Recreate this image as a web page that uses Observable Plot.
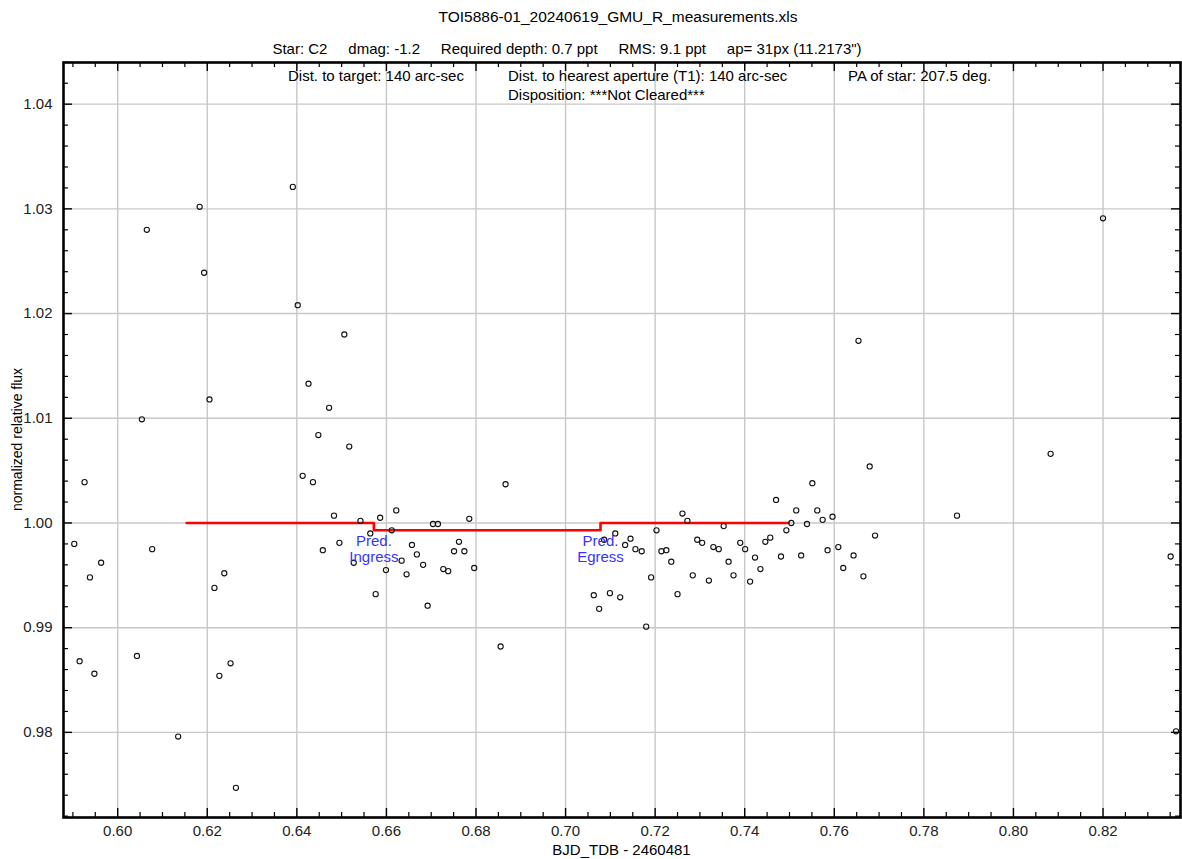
<!DOCTYPE html>
<html>
<head>
<meta charset="utf-8">
<script src="https://cdn.jsdelivr.net/npm/d3@7"></script>
<script src="https://cdn.jsdelivr.net/npm/@observablehq/plot@0.6"></script>
<style>
  body { margin: 0; background: #fff; }
  svg text { font-family: "Liberation Sans", Arial, Helvetica, sans-serif; }
</style>
</head>
<body>
<div id="chart"></div>
<script>
// ---- data ----
const times = [
  0.5903, 0.5915, 0.5926, 0.5938, 0.5948, 0.5963, 0.6043, 0.6054, 0.6065, 0.6077,
  0.6135, 0.6183, 0.6193, 0.6205, 0.6216, 0.6227, 0.6238, 0.6252, 0.6264, 0.6391,
  0.6402, 0.6413, 0.6426, 0.6436, 0.6448, 0.6458, 0.6472, 0.6483, 0.6495, 0.6506,
  0.6517, 0.6527, 0.6542, 0.6564, 0.6576, 0.6586, 0.6599, 0.6612, 0.6622, 0.6634,
  0.6645, 0.6657, 0.6668, 0.6682, 0.6692, 0.6704, 0.6715, 0.6727, 0.6738, 0.6751,
  0.6762, 0.6774, 0.6785, 0.6796, 0.6855, 0.6866,
  0.7063, 0.7075, 0.7086, 0.7099, 0.7111, 0.7122, 0.7133, 0.7145, 0.7156, 0.7170,
  0.7180, 0.7191, 0.7203, 0.7214, 0.7225, 0.7236, 0.7250, 0.7261, 0.7272, 0.7284,
  0.7294, 0.7305, 0.7320, 0.7330, 0.7342, 0.7353, 0.7364, 0.7375, 0.7390, 0.7401,
  0.7412, 0.7423, 0.7435, 0.7446, 0.7457, 0.7470, 0.7481, 0.7493, 0.7504, 0.7515,
  0.7526, 0.7539, 0.7551, 0.7562, 0.7574, 0.7585, 0.7596, 0.7609, 0.7620, 0.7643,
  0.7654, 0.7665, 0.7679, 0.7691, 0.7874, 0.8083, 0.8200, 0.8351, 0.8363
];
const fluxes = [
  0.9980, 0.9868, 1.0039, 0.9948, 0.9856, 0.9962, 0.9873, 1.0099, 1.0280, 0.9975,
  0.9796, 1.0302, 1.0239, 1.0118, 0.9938, 0.9854, 0.9952, 0.9866, 0.9747, 1.0321,
  1.0208, 1.0045, 1.0133, 1.0039, 1.0084, 0.9974, 1.0110, 1.0007, 0.9981, 1.0180,
  1.0073, 0.9962, 1.0002, 0.9990, 0.9932, 1.0005, 0.9955, 0.9993, 1.0012, 0.9964,
  0.9951, 0.9979, 0.9970, 0.9960, 0.9921, 0.9999, 0.9999, 0.9956, 0.9954, 0.9973,
  0.9982, 0.9973, 1.0004, 0.9957, 0.9882, 1.0037,
  0.9931, 0.9918, 0.9984, 0.9933, 0.9990, 0.9929, 0.9979, 0.9985, 0.9975, 0.9973,
  0.9901, 0.9948, 0.9993, 0.9973, 0.9974, 0.9963, 0.9932, 1.0009, 1.0002, 0.9950,
  0.9984, 0.9981, 0.9945, 0.9977, 0.9975, 0.9997, 0.9963, 0.9950, 0.9981, 0.9975,
  0.9944, 0.9967, 0.9956, 0.9982, 0.9986, 1.0022, 0.9968, 0.9993, 1.0000, 1.0012,
  0.9969, 0.9999, 1.0038, 1.0012, 1.0003, 0.9974, 1.0006, 0.9977, 0.9957, 0.9969,
  1.0174, 0.9949, 1.0054, 0.9988, 1.0007, 1.0066, 1.0291, 0.9968, 0.9801
];
// predicted transit model (step)
const modelTimes = [0.6154, 0.6572, 0.7078, 0.7498];
const modelFlux  = [1.0000, 0.9993, 1.0000, 1.0000];
const eventTimes  = [0.6572, 0.7078];
const eventLabels = ["Pred.\nIngress", "Pred.\nEgress"];
const eventFlux   = [0.9993, 0.9993];

const xTicks = [0.60, 0.62, 0.64, 0.66, 0.68, 0.70, 0.72, 0.74, 0.76, 0.78, 0.80, 0.82];
const yTicks = [0.98, 0.99, 1.00, 1.01, 1.02, 1.03, 1.04];
const xDomain = [0.5879, 0.8373];
const yDomain = [0.97187, 1.04398];

const titleText = "TOI5886-01_20240619_GMU_R_measurements.xls";
const subtitleText = "Star: C2\u00a0\u00a0\u00a0\u00a0\u00a0dmag: -1.2\u00a0\u00a0\u00a0\u00a0\u00a0Required depth: 0.7 ppt\u00a0\u00a0\u00a0\u00a0\u00a0RMS: 9.1 ppt\u00a0\u00a0\u00a0\u00a0\u00a0ap= 31px (11.2173\")";
const infoTexts = ["Dist. to target: 140 arc-sec", "Dist. to hearest aperture (T1): 140 arc-sec", "PA of star: 207.5 deg.", "Disposition: ***Not Cleared***"];
const xLabel = "BJD_TDB - 2460481";
const yLabel = "normalized relative flux";

// ---- build tables ----
const points = times.map((t, i) => ({t, f: fluxes[i]}));
const model = modelTimes.map((t, i) => ({t, f: modelFlux[i]}));
const events = eventTimes.map((t, i) => ({t, f: eventFlux[i], label: eventLabels[i]}));
const xMinor = d3.range(0.590, 0.8371, 0.005).filter(v => Math.abs(v * 50 - Math.round(v * 50)) > 1e-6);
const yMinor = d3.range(0.972, 1.0441, 0.002).filter(v => Math.abs(v * 100 - Math.round(v * 100)) > 1e-6);

const W = 1182, H = 859, mL = 63, mR = 2, mT = 62, mB = 42;
const plotH = H - mT - mB, plotW = W - mL - mR;
const fmt = d3.format(".2f");
const FS = 15;

const chart = Plot.plot({
  width: W, height: H,
  marginLeft: mL, marginRight: mR, marginTop: mT, marginBottom: mB,
  style: {fontFamily: '"Liberation Sans", Arial, sans-serif', fontSize: FS + "px", background: "#fff"},
  x: {domain: xDomain, axis: null},
  y: {domain: yDomain, axis: null},
  marks: [
    Plot.gridX(xTicks, {stroke: "#c8c8c8", strokeOpacity: 1, strokeWidth: 1.4}),
    Plot.gridY(yTicks, {stroke: "#c8c8c8", strokeOpacity: 1, strokeWidth: 1.4}),
    // inward ticks, bottom and top
    Plot.ruleX(xTicks, {x: d => d, insetTop: plotH - 9, stroke: "#000", strokeWidth: 1.4}),
    Plot.ruleX(xTicks, {x: d => d, insetBottom: plotH - 9, stroke: "#000", strokeWidth: 1.4}),
    Plot.ruleX(xMinor, {x: d => d, insetTop: plotH - 5, stroke: "#000", strokeWidth: 1.2}),
    Plot.ruleX(xMinor, {x: d => d, insetBottom: plotH - 5, stroke: "#000", strokeWidth: 1.2}),
    // inward ticks, left and right
    Plot.ruleY(yTicks, {y: d => d, insetRight: plotW - 9, stroke: "#000", strokeWidth: 1.4}),
    Plot.ruleY(yTicks, {y: d => d, insetLeft: plotW - 9, stroke: "#000", strokeWidth: 1.4}),
    Plot.ruleY(yMinor, {y: d => d, insetRight: plotW - 5, stroke: "#000", strokeWidth: 1.2}),
    Plot.ruleY(yMinor, {y: d => d, insetLeft: plotW - 5, stroke: "#000", strokeWidth: 1.2}),
    Plot.axisX(xTicks, {tickSize: 0, tickPadding: 8, tickFormat: fmt, fontSize: FS, fill: "#222", label: null}),
    Plot.axisY(yTicks, {tickSize: 0, tickPadding: 11, tickFormat: fmt, fontSize: FS, fill: "#222", label: null}),
    Plot.line(model, {x: "t", y: "f", curve: "step-after", stroke: "#ff0000", strokeWidth: 2.6}),
    Plot.dot(points, {x: "t", y: "f", r: 2.6, stroke: "#111", strokeWidth: 1.1, fill: "none"}),
    Plot.text(events, {x: "t", y: "f", text: "label", fill: "#3535ff", fontSize: FS, lineAnchor: "top", lineHeight: 1.07, dy: 4, textAnchor: "middle"}),
    Plot.frame({stroke: "#000", strokeWidth: 2.6})
  ]
});

const svg = d3.select(chart);
function addText(txt, x, y, opts = {}) {
  const t = svg.append("text")
    .attr("x", x).attr("y", y)
    .attr("text-anchor", opts.anchor || "start")
    .attr("dominant-baseline", "central")
    .attr("font-size", (opts.size || FS) + "px")
    .attr("fill", "#000")
    .text(txt);
  if (opts.rotate) t.attr("transform", `rotate(-90 ${x} ${y})`);
  return t;
}
addText(titleText, 618, 16, {anchor: "middle", size: 15.5});
addText(subtitleText, 567, 48, {anchor: "middle"});
addText(infoTexts[0], 288, 75);
addText(infoTexts[1], 508, 75);
addText(infoTexts[2], 848, 75);
addText(infoTexts[3], 508, 94);
addText(xLabel, mL + plotW / 2, 849, {anchor: "middle"});
addText(yLabel, 17, mT + plotH / 2, {anchor: "middle", rotate: true, size: 14});

document.getElementById("chart").appendChild(chart);
</script>
</body>
</html>
